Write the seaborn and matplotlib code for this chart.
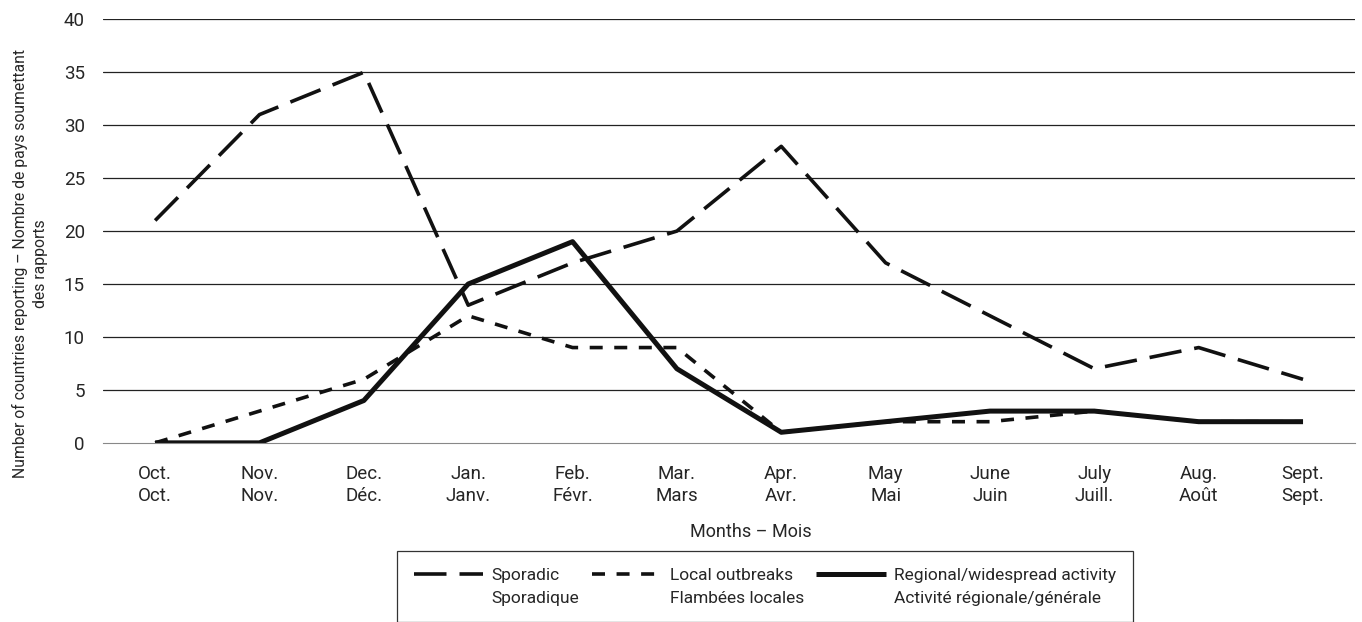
import numpy as np
import pandas as pd
import matplotlib.pyplot as plt
import seaborn as sns
from matplotlib.lines import Line2D

months = ["Oct.\nOct.", "Nov.\nNov.", "Dec.\nDéc.", "Jan.\nJanv.", "Feb.\nFévr.", "Mar.\nMars",
          "Apr.\nAvr.", "May\nMai", "June\nJuin", "July\nJuill.", "Aug.\nAoût", "Sept.\nSept."]
sporadic = [21, 31, 35, 13, 17, 20, 28, 17, 12, 7, 9, 6]
local = [0, 3, 6, 12, 9, 9, 1, 2, 2, 3, 2, 2]
regional = [0, 0, 4, 15, 19, 7, 1, 2, 3, 3, 2, 2]
names_en = ["Sporadic", "Local outbreaks", "Regional/widespread activity"]
names_fr = ["Sporadique", "Flambées locales", "Activité régionale/générale"]

rows = []
for name, vals in zip(names_en, [sporadic, local, regional]):
    for i, v in enumerate(vals):
        rows.append({"month": i, "value": v, "series": name})
df = pd.DataFrame(rows)

sns.set_style("white")
plt.rcParams['font.family'] = ['Roboto', 'DejaVu Sans']

fig = plt.figure(figsize=(13.62, 6.22), dpi=100)
ax = fig.add_axes([0.0756, 0.288, 0.9194, 0.681])

for y in range(5, 45, 5):
    ax.axhline(y, color="#222222", lw=0.9, zorder=0)

widths = {names_en[0]: 2.6, names_en[1]: 2.6, names_en[2]: 3.6}
dash_map = {names_en[0]: (0, (9, 3.6)), names_en[1]: (0, (3.6, 3.2)), names_en[2]: "-"}
handles = []
for name in names_en:
    sub = df[df.series == name]
    sns.lineplot(data=sub, x="month", y="value", ax=ax, color="#111111",
                 lw=widths[name], linestyle=dash_map[name],
                 solid_capstyle="butt", dash_capstyle="butt")
    handles.append(Line2D([], [], color="#111111", lw=widths[name], linestyle=dash_map[name],
                          dash_capstyle="butt", solid_capstyle="butt"))

ax.set_xlim(-0.5, 11.5)
ax.set_ylim(0, 40)
ax.set_yticks(range(0, 45, 5))
ax.set_xticks(range(12))
ax.set_xticklabels(months, fontsize=13.5, linespacing=1.25)
ax.set_xticks(np.arange(-0.5, 12, 1), minor=True)
ax.tick_params(axis="x", which="major", length=0, pad=16)
ax.tick_params(axis="x", which="minor", length=4, color="#777777", direction="out")
ax.tick_params(axis="y", length=0, labelsize=13.5, pad=13)
for s in ["top", "right", "left"]:
    ax.spines[s].set_visible(False)
ax.spines["bottom"].set_color("#888888")
ax.spines["bottom"].set_linewidth(0.8)

ax.set_xlabel("")
ax.set_ylabel("")
fig.text(751 / 1362, 1 - 532 / 622, "Months – Mois", ha="center", va="center", fontsize=13)
fig.text(30 / 1362, 1 - 264 / 622,
         "Number of countries reporting – Nombre de pays soumettant\ndes rapports",
         rotation=90, ha="center", va="center", multialignment="center", fontsize=11.3,
         linespacing=1.45)

# two rows in the legend: English label with the line, French label below it
blank = Line2D([], [], color="none")
leg_handles, leg_labels = [], []
for h, en, fr in zip(handles, names_en, names_fr):
    leg_handles += [h, blank]
    leg_labels += [en, fr]
leg = ax.legend(leg_handles, leg_labels, loc="upper center",
                bbox_to_anchor=(765 / 1362, 1 - 551 / 622), borderaxespad=0,
                bbox_transform=fig.transFigure, ncol=3, fontsize=12.5, frameon=True,
                fancybox=False, edgecolor="black", handlelength=4.0, columnspacing=0.7,
                handletextpad=0.5, borderpad=0.95, labelspacing=0.45)
leg.get_frame().set_linewidth(0.9)

fig.savefig("out.png", dpi=100)
